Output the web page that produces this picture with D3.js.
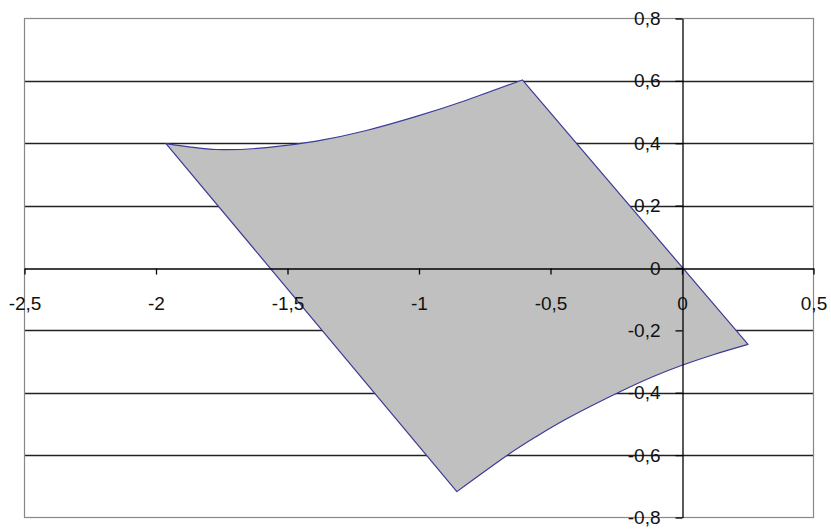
<!DOCTYPE html>
<html>
<head>
<meta charset="utf-8">
<script src="https://cdn.jsdelivr.net/npm/d3@7"></script>
<style>
  html, body { margin: 0; padding: 0; background: #fff; }
  svg { display: block; }
  text { font-family: "Liberation Sans", Arial, sans-serif; font-size: 19px; fill: #111; }
</style>
</head>
<body>
<div id="chart"></div>
<script>
// Axis ticks
const xTicks = [-2.5, -2, -1.5, -1, -0.5, 0, 0.5];
const yTicks = [-0.8, -0.6, -0.4, -0.2, 0, 0.2, 0.4, 0.6, 0.8];

// Shape outline
// top edge (curved), from the left corner to the top corner
const topEdge = [
  [-1.962, 0.399],
  [-1.77, 0.38],
  [-1.58, 0.386],
  [-1.39, 0.407],
  [-1.2, 0.441],
  [-1.01, 0.486],
  [-0.82, 0.538],
  [-0.607, 0.603],
];
// bottom edge (curved), from the right corner to the bottom corner
const bottomEdge = [
  [0.251, -0.245],
  [0.119, -0.278],
  [0.0, -0.312],
  [-0.109, -0.348],
  [-0.236, -0.397],
  [-0.426, -0.478],
  [-0.553, -0.54],
  [-0.667, -0.602],
  [-0.856, -0.717],
];

const width = 831;
const height = 530;

const fmt = d3
  .formatLocale({ decimal: ",", thousands: ".", grouping: [3], currency: ["", ""], minus: "-" })
  .format(".1~f");

const x = d3.scaleLinear().domain([-2.5, 0.5]).range([24.5, 813.5]);
const y = d3.scaleLinear().domain([-0.8, 0.8]).range([517.5, 18.5]);

const svg = d3
  .select("#chart")
  .append("svg")
  .attr("width", width)
  .attr("height", height);

// horizontal gridlines
svg
  .append("g")
  .selectAll("line")
  .data(yTicks.filter((d) => d !== 0.8 && d !== -0.8 && d !== 0))
  .join("line")
  .attr("x1", x.range()[0])
  .attr("x2", x.range()[1])
  .attr("y1", (d) => Math.round(y(d)) + 0.5)
  .attr("y2", (d) => Math.round(y(d)) + 0.5)
  .attr("stroke", "#222")
  .attr("stroke-width", 1.3);

// shape
const line = d3
  .line()
  .x((d) => x(d[0]))
  .y((d) => y(d[1]))
  .curve(d3.curveNatural);

const pathStr =
  line(topEdge) + "L" + line(bottomEdge).slice(1) + "Z";

svg
  .append("path")
  .attr("d", pathStr)
  .attr("fill", "#c0c0c0")
  .attr("stroke", "#3a3a98")
  .attr("stroke-width", 1.2)
  .attr("stroke-linejoin", "round");

// plot border
svg
  .append("rect")
  .attr("x", x.range()[0])
  .attr("y", y.range()[1])
  .attr("width", x.range()[1] - x.range()[0])
  .attr("height", y.range()[0] - y.range()[1])
  .attr("fill", "none")
  .attr("stroke", "#888")
  .attr("stroke-width", 1.2);

// x axis through y = 0
const xAxis = d3
  .axisBottom(x)
  .tickValues(xTicks)
  .tickSize(6)
  .tickSizeOuter(0)
  .tickPadding(22)
  .tickFormat(fmt);

const gx = svg
  .append("g")
  .attr("transform", `translate(0, ${Math.round(y(0)) + 0.5})`)
  .call(xAxis);

// y axis through x = 0
const yAxis = d3
  .axisLeft(y)
  .tickValues(yTicks)
  .tickSize(7)
  .tickSizeOuter(0)
  .tickPadding(15)
  .tickFormat(fmt);

const gy = svg
  .append("g")
  .attr("transform", `translate(${Math.round(x(0)) + 0.5}, 0)`)
  .call(yAxis);

[gx, gy].forEach((g) => {
  g.select(".domain").attr("stroke", "#000").attr("stroke-width", 1.3);
  g.selectAll(".tick line").attr("stroke", "#000").attr("stroke-width", 1.3);
  g.selectAll(".tick text")
    .attr("font-family", null)
    .attr("font-size", null)
    .style("fill", "#111");
});
</script>
</body>
</html>
